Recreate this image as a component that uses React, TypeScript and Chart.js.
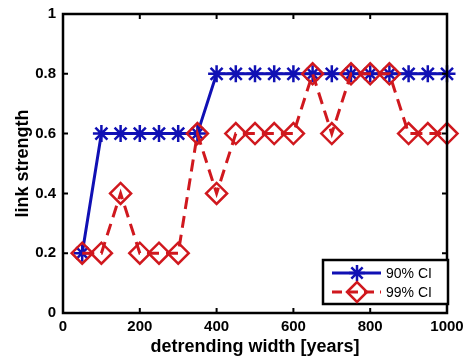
import React, { useEffect, useRef } from "react";
import { Chart, registerables } from "chart.js";

Chart.register(...registerables);

const widths = [50, 100, 150, 200, 250, 300, 350, 400, 450, 500, 550, 600, 650, 700, 750, 800, 850, 900, 950, 1000];
const ci90 = [0.2, 0.6, 0.6, 0.6, 0.6, 0.6, 0.6, 0.8, 0.8, 0.8, 0.8, 0.8, 0.8, 0.8, 0.8, 0.8, 0.8, 0.8, 0.8, 0.8];
const ci99 = [0.2, 0.2, 0.4, 0.2, 0.2, 0.2, 0.6, 0.4, 0.6, 0.6, 0.6, 0.6, 0.8, 0.6, 0.8, 0.8, 0.8, 0.6, 0.6, 0.6];
const xTicks = [0, 200, 400, 600, 800, 1000];
const yTicks = [0, 0.2, 0.4, 0.6, 0.8, 1];
const seriesNames = ["90% CI", "99% CI"];
const xTitle = "detrending width [years]";
const yTitle = "link strength";

const BLUE = "#1010b4";
const RED = "#d0181e";
const FONT = "'Liberation Sans', Arial, Helvetica, sans-serif";

function drawStar(ctx: CanvasRenderingContext2D, x: number, y: number, r: number) {
  ctx.beginPath();
  for (let k = 0; k < 4; k++) {
    const ang = (k * Math.PI) / 4;
    const dx = Math.cos(ang) * r;
    const dy = Math.sin(ang) * r;
    ctx.moveTo(x - dx, y - dy);
    ctx.lineTo(x + dx, y + dy);
  }
  ctx.stroke();
}

function drawDiamond(ctx: CanvasRenderingContext2D, x: number, y: number, r: number) {
  ctx.beginPath();
  ctx.moveTo(x - r, y);
  ctx.lineTo(x, y - r);
  ctx.lineTo(x + r, y);
  ctx.lineTo(x, y + r);
  ctx.closePath();
  ctx.stroke();
}

export default function App() {
  const ref = useRef<HTMLCanvasElement>(null);
  useEffect(() => {
    document.body.style.margin = "0";
    const canvas = ref.current!;
    const framePlugin = {
      id: "frame",
      afterDatasetsDraw(chart: any) {
        const { ctx, chartArea: a, scales } = chart;
        ctx.save();
        ctx.strokeStyle = "#000";
        ctx.lineWidth = 2.5;
        ctx.strokeRect(a.left, a.top, a.right - a.left, a.bottom - a.top);
        ctx.lineWidth = 2;
        const tl = 5;
        xTicks.forEach((v) => {
          const px = scales.x.getPixelForValue(v);
          ctx.beginPath();
          ctx.moveTo(px, a.bottom);
          ctx.lineTo(px, a.bottom - tl);
          ctx.moveTo(px, a.top);
          ctx.lineTo(px, a.top + tl);
          ctx.stroke();
        });
        yTicks.forEach((v) => {
          const py = scales.y.getPixelForValue(v);
          ctx.beginPath();
          ctx.moveTo(a.left, py);
          ctx.lineTo(a.left + tl, py);
          ctx.moveTo(a.right, py);
          ctx.lineTo(a.right - tl, py);
          ctx.stroke();
        });
        // axis titles
        ctx.fillStyle = "#000";
        ctx.font = `bold 18px ${FONT}`;
        ctx.textAlign = "center";
        ctx.textBaseline = "middle";
        ctx.fillText(xTitle, (a.left + a.right) / 2, 347);
        ctx.save();
        ctx.translate(23, (a.top + a.bottom) / 2);
        ctx.rotate(-Math.PI / 2);
        ctx.fillText(yTitle, 0, 0);
        ctx.restore();
        // legend
        const bx = 323, by = 260, bw = 125, bh = 44;
        ctx.fillStyle = "#fff";
        ctx.fillRect(bx, by, bw, bh);
        ctx.lineWidth = 2.5;
        ctx.strokeStyle = "#000";
        ctx.strokeRect(bx, by, bw, bh);
        const rows = [
          { y: 273, color: BLUE, dash: [] as number[], star: true, r: 8 },
          { y: 292, color: RED, dash: [10, 6], star: false, r: 10 },
        ];
        rows.forEach((row, i) => {
          ctx.strokeStyle = row.color;
          ctx.lineWidth = 3;
          ctx.setLineDash(row.dash);
          ctx.beginPath();
          ctx.moveTo(332, row.y);
          ctx.lineTo(381, row.y);
          ctx.stroke();
          ctx.setLineDash([]);
          ctx.lineWidth = 2.5;
          if (row.star) drawStar(ctx, 357, row.y, row.r);
          else drawDiamond(ctx, 357, row.y, row.r);
          ctx.fillStyle = "#000";
          ctx.font = `14px ${FONT}`;
          ctx.textAlign = "left";
          ctx.fillText(seriesNames[i], 386, row.y + 1);
        });
        ctx.restore();
      },
    };

    const chart = new Chart(canvas, {
      type: "line",
      data: {
        datasets: [
          {
            label: seriesNames[0],
            data: widths.map((x, i) => ({ x, y: ci90[i] })),
            borderColor: BLUE,
            backgroundColor: "transparent",
            borderWidth: 3,
            pointStyle: "star",
            pointRadius: 8.5,
            pointBorderWidth: 2.5,
            pointBorderColor: BLUE,
            tension: 0,
            clip: false as any,
            order: 1,
          },
          {
            label: seriesNames[1],
            data: widths.map((x, i) => ({ x, y: ci99[i] })),
            borderColor: RED,
            backgroundColor: "transparent",
            borderWidth: 3,
            borderDash: [12, 7],
            pointStyle: "rectRot",
            pointRadius: 10.5,
            pointBorderWidth: 2.5,
            pointBorderColor: RED,
            pointBackgroundColor: "transparent",
            tension: 0,
            clip: false as any,
            order: 0,
          },
        ],
      },
      options: {
        animation: false,
        responsive: false,
        layout: { padding: { top: 14, right: 17, left: 0, bottom: 0 } },
        plugins: { legend: { display: false }, tooltip: { enabled: false } },
        scales: {
          x: {
            type: "linear",
            min: 0,
            max: 1000,
            afterBuildTicks: (s: any) => {
              s.ticks = xTicks.map((v) => ({ value: v }));
            },
            afterFit: (s: any) => {
              s.height = 49;
              s.paddingLeft = 0;
              s.paddingRight = 0;
            },
            grid: { display: false, drawTicks: false },
            border: { display: false },
            ticks: {
              color: "#000",
              font: { family: FONT, size: 15, weight: "bold" },
              padding: 5,
              maxRotation: 0,
              autoSkip: false,
              callback: (v: any) => String(v),
            },
          },
          y: {
            type: "linear",
            min: 0,
            max: 1,
            afterBuildTicks: (s: any) => {
              s.ticks = yTicks.map((v) => ({ value: v }));
            },
            afterFit: (s: any) => {
              s.width = 63;
              s.paddingTop = 0;
              s.paddingBottom = 0;
            },
            grid: { display: false, drawTicks: false },
            border: { display: false },
            ticks: {
              color: "#000",
              font: { family: FONT, size: 15, weight: "bold" },
              padding: 7,
              autoSkip: false,
              callback: (v: any) => String(Math.round(Number(v) * 10) / 10),
            },
          },
        },
      },
      plugins: [framePlugin],
    });
    return () => chart.destroy();
  }, []);
  return <canvas ref={ref} width={464} height={362} style={{ display: "block" }} />;
}
